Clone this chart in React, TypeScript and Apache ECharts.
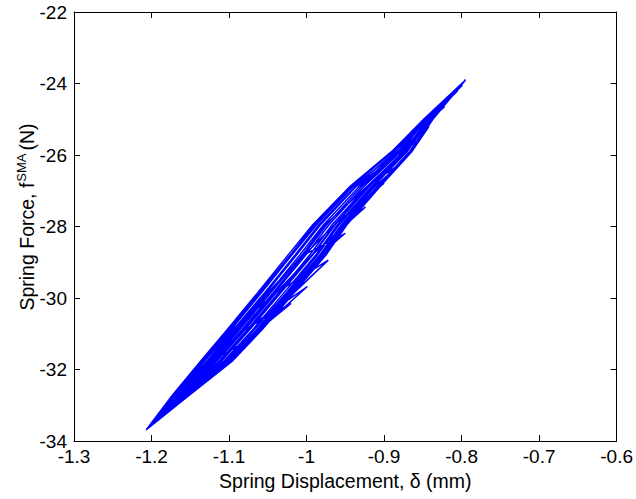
import React, { useEffect, useRef } from "react";
import * as echarts from "echarts";

type Pt = [number, number];

const xTicks = { min: -1.3, max: -0.6, interval: 0.1 };
const yTicks = { min: -34, max: -22, interval: 2 };

const B: Pt = [-1.207, -33.69];

const loopF1: Pt[] = [B, [-1.157, -32.8], [-1.096, -31.75], [-1.06, -30.9], [-1.018, -29.85], [-0.977, -28.8], [-0.95, -27.95], [-0.907, -26.9], [-0.865, -25.9], [-0.837, -25.0], [-0.795, -23.9], [-0.849, -25.0], [-0.89, -25.9], [-0.945, -26.9], [-0.992, -27.95], [-1.024, -28.8], [-1.063, -29.85], [-1.103, -30.9], [-1.136, -31.75], [-1.176, -32.8], B];
const loopM0a: Pt[] = [B, [-1.163, -32.8], [-1.11, -31.75], [-1.075, -30.9], [-1.034, -29.85], [-0.993, -28.8], [-0.964, -27.95], [-0.921, -26.9], [-0.874, -25.9], [-0.842, -25.0], [-0.805, -24.2], [-0.845, -25.0], [-0.879, -25.9], [-0.93, -26.9], [-0.974, -27.95], [-1.004, -28.8], [-1.043, -29.85], [-1.084, -30.9], [-1.119, -31.75], [-1.168, -32.8], B];
const loopF2: Pt[] = [B, [-1.158, -32.8], [-1.099, -31.75], [-1.063, -30.9], [-1.021, -29.85], [-0.981, -28.8], [-0.953, -27.95], [-0.91, -26.9], [-0.867, -25.9], [-0.838, -25.0], [-0.795, -23.9], [-0.848, -25.0], [-0.888, -25.9], [-0.943, -26.9], [-0.988, -27.95], [-1.02, -28.8], [-1.059, -29.85], [-1.099, -30.9], [-1.133, -31.75], [-1.174, -32.8], B];
const loopM1: Pt[] = [B, [-1.156, -32.8], [-1.095, -31.75], [-1.058, -30.9], [-1.016, -29.85], [-0.975, -28.8], [-0.948, -27.95], [-0.906, -26.9], [-0.864, -25.9], [-0.842, -25.2], [-0.882, -25.9], [-0.941, -26.9], [-0.987, -27.95], [-1.019, -28.8], [-1.058, -29.85], [-1.098, -30.9], [-1.132, -31.75], [-1.174, -32.8], B];
const loopM2: Pt[] = [B, [-1.158, -32.8], [-1.098, -31.75], [-1.062, -30.9], [-1.02, -29.85], [-0.979, -28.8], [-0.952, -27.95], [-0.909, -26.9], [-0.866, -25.9], [-0.853, -25.55], [-0.877, -25.9], [-0.937, -26.9], [-0.982, -27.95], [-1.013, -28.8], [-1.052, -29.85], [-1.093, -30.9], [-1.127, -31.75], [-1.171, -32.8], B];
const loopF3: Pt[] = [B, [-1.161, -32.8], [-1.106, -31.75], [-1.07, -30.9], [-1.029, -29.85], [-0.988, -28.8], [-0.96, -27.95], [-0.917, -26.9], [-0.871, -25.9], [-0.841, -25.0], [-0.797, -23.96], [-0.847, -25.0], [-0.885, -25.9], [-0.938, -26.9], [-0.984, -27.95], [-1.015, -28.8], [-1.054, -29.85], [-1.095, -30.9], [-1.128, -31.75], [-1.172, -32.8], B];
const loopM3: Pt[] = [B, [-1.159, -32.8], [-1.102, -31.75], [-1.065, -30.9], [-1.024, -29.85], [-0.983, -28.8], [-0.955, -27.95], [-0.913, -26.9], [-0.878, -26.23], [-0.923, -26.9], [-0.976, -27.95], [-1.006, -28.8], [-1.046, -29.85], [-1.087, -30.9], [-1.121, -31.75], [-1.169, -32.8], B];
const loopM4: Pt[] = [B, [-1.157, -32.8], [-1.097, -31.75], [-1.061, -30.9], [-1.019, -29.85], [-0.978, -28.8], [-0.951, -27.95], [-0.908, -26.9], [-0.9, -26.79], [-0.964, -27.95], [-1.003, -28.8], [-1.042, -29.85], [-1.083, -30.9], [-1.118, -31.75], [-1.167, -32.8], B];
const loopM0b: Pt[] = [B, [-1.16, -32.8], [-1.104, -31.75], [-1.068, -30.9], [-1.026, -29.85], [-0.986, -28.8], [-0.958, -27.95], [-0.915, -26.9], [-0.87, -25.9], [-0.84, -25.0], [-0.822, -24.65], [-0.849, -25.0], [-0.889, -25.9], [-0.944, -26.9], [-0.99, -27.95], [-1.021, -28.8], [-1.061, -29.85], [-1.101, -30.9], [-1.134, -31.75], [-1.175, -32.8], B];
const loopM5: Pt[] = [B, [-1.158, -32.8], [-1.1, -31.75], [-1.064, -30.9], [-1.022, -29.85], [-0.981, -28.8], [-0.953, -27.95], [-0.924, -27.45], [-0.993, -28.8], [-1.039, -29.85], [-1.08, -30.9], [-1.115, -31.75], [-1.166, -32.8], B];
const loopF4: Pt[] = [B, [-1.164, -32.8], [-1.112, -31.75], [-1.077, -30.9], [-1.036, -29.85], [-0.996, -28.8], [-0.967, -27.95], [-0.923, -26.9], [-0.875, -25.9], [-0.843, -25.0], [-0.799, -24.05], [-0.846, -25.0], [-0.882, -25.9], [-0.933, -26.9], [-0.978, -27.95], [-1.009, -28.8], [-1.048, -29.85], [-1.089, -30.9], [-1.123, -31.75], [-1.17, -32.8], B];
const loopM12: Pt[] = [B, [-1.163, -32.8], [-1.109, -31.75], [-1.074, -30.9], [-1.033, -29.85], [-0.992, -28.8], [-0.963, -27.95], [-0.92, -26.9], [-0.873, -25.9], [-0.833, -24.85], [-0.878, -25.9], [-0.927, -26.9], [-0.971, -27.95], [-1.001, -28.8], [-1.041, -29.85], [-1.082, -30.9], [-1.117, -31.75], [-1.167, -32.8], B];
const loopM6: Pt[] = [B, [-1.159, -32.8], [-1.102, -31.75], [-1.065, -30.9], [-1.024, -29.85], [-0.983, -28.8], [-0.95, -28.19], [-1.004, -28.8], [-1.05, -29.85], [-1.091, -30.9], [-1.125, -31.75], [-1.171, -32.8], B];
const loopM7: Pt[] = [B, [-1.156, -32.8], [-1.095, -31.75], [-1.058, -30.9], [-1.016, -29.85], [-0.972, -28.94], [-1.039, -29.85], [-1.097, -30.9], [-1.131, -31.75], [-1.173, -32.8], B];
const loopM8: Pt[] = [B, [-1.16, -32.8], [-1.104, -31.75], [-1.061, -30.9], [-0.999, -29.68], [-1.08, -30.9], [-1.12, -31.75], [-1.168, -32.8], B];
const loopM9: Pt[] = [B, [-1.158, -32.8], [-1.098, -31.75], [-1.062, -30.9], [-1.02, -30.15], [-1.082, -30.9], [-1.117, -31.75], [-1.167, -32.8], B];
const loopM10: Pt[] = [B, [-1.159, -32.8], [-1.102, -31.75], [-1.066, -31.08], [-1.123, -31.75], [-1.172, -32.8], B];
const loopM11: Pt[] = [B, [-1.156, -32.8], [-1.125, -32.2], [-1.17, -32.8], B];

const loops: Pt[][] = [loopF1, loopM0a, loopF2, loopM1, loopM2, loopF3, loopM3, loopM4, loopM0b, loopM5, loopF4, loopM12, loopM6, loopM7, loopM8, loopM9, loopM10, loopM11];

const xTitle = "Spring Displacement, δ (mm)";
const yTitle = "{a|Spring Force, f}{s|SMA}{a|(N)}";

const FONT = "'Liberation Sans', Arial, Helvetica, sans-serif";

export default function App() {
  const ref = useRef<HTMLDivElement>(null);
  useEffect(() => {
    if (!ref.current) return;
    const chart = echarts.init(ref.current, undefined, { renderer: "svg" });
    const data: Pt[] = [];
    loops.forEach((l) => l.forEach((p) => data.push(p)));
    const fmtX = (v: number) => String(Math.round(v * 10) / 10);
    const fmtY = (v: number) => String(Math.round(v));
    const tickCommon = { show: true, inside: true, length: 6, lineStyle: { color: "#000", width: 1 } };
    chart.setOption({
      animation: false,
      backgroundColor: "#fff",
      textStyle: { fontFamily: FONT },
      grid: { left: 74, right: 13, top: 12, bottom: 58, containLabel: false },
      graphic: [
        {
          type: "text",
          x: 26,
          y: 217,
          rotation: Math.PI / 2,
          silent: true,
          style: {
            text: yTitle,
            align: "center",
            verticalAlign: "middle",
            fill: "#000",
            font: "19.5px " + FONT,
            rich: {
              a: { fontSize: 19.5, lineHeight: 22, verticalAlign: "bottom", fill: "#000", fontFamily: FONT },
              s: { fontSize: 13, lineHeight: 14, verticalAlign: "top", fill: "#000", fontFamily: FONT, padding: [0, 3, 0, 1] },
            },
          },
        },
      ],
      xAxis: [
        {
          type: "value",
          min: xTicks.min,
          max: xTicks.max,
          interval: xTicks.interval,
          position: "bottom",
          axisLine: { show: true, onZero: false, lineStyle: { color: "#000", width: 1 } },
          axisTick: tickCommon,
          splitLine: { show: false },
          axisLabel: { color: "#000", fontSize: 19, margin: 6, formatter: fmtX, fontFamily: FONT },
          name: xTitle,
          nameLocation: "middle",
          nameGap: 30,
          nameTextStyle: { color: "#000", fontSize: 19.5, fontFamily: FONT },
        },
        {
          type: "value",
          min: xTicks.min,
          max: xTicks.max,
          interval: xTicks.interval,
          position: "top",
          axisLine: { show: true, onZero: false, lineStyle: { color: "#000", width: 1 } },
          axisTick: tickCommon,
          splitLine: { show: false },
          axisLabel: { show: false },
        },
      ],
      yAxis: [
        {
          type: "value",
          min: yTicks.min,
          max: yTicks.max,
          interval: yTicks.interval,
          position: "left",
          axisLine: { show: true, onZero: false, lineStyle: { color: "#000", width: 1 } },
          axisTick: tickCommon,
          splitLine: { show: false },
          axisLabel: { color: "#000", fontSize: 19, margin: 7, formatter: fmtY, fontFamily: FONT },
        },
        {
          type: "value",
          min: yTicks.min,
          max: yTicks.max,
          interval: yTicks.interval,
          position: "right",
          axisLine: { show: true, onZero: false, lineStyle: { color: "#000", width: 1 } },
          axisTick: tickCommon,
          splitLine: { show: false },
          axisLabel: { show: false },
        },
      ],
      series: [
        {
          type: "line",
          xAxisIndex: 0,
          yAxisIndex: 0,
          data,
          showSymbol: false,
          symbol: "none",
          smooth: false,
          lineStyle: { color: "#0000ff", width: 1.5 },
          silent: true,
        },
      ],
    });
    return () => chart.dispose();
  }, []);
  return (
    <div
      ref={ref}
      style={{ position: "fixed", left: 0, top: 0, width: 636, height: 499, background: "#fff" }}
    />
  );
}
